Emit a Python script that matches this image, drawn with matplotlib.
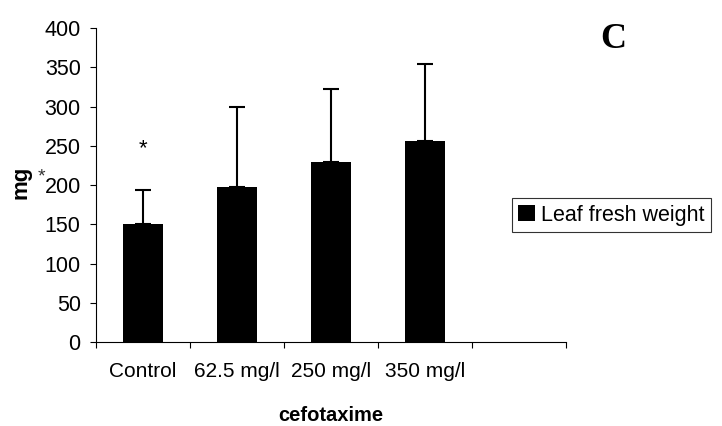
import matplotlib.pyplot as plt
import numpy as np

categories = ["Control", "62.5 mg/l", "250 mg/l", "350 mg/l"]
fresh_weight = [150, 197, 229, 256]
error_upper = [44, 103, 93, 98]
series_name = "Leaf fresh weight"

plt.rcParams["font.family"] = ["Liberation Sans", "DejaVu Sans"]

fig = plt.figure(figsize=(7.22, 4.26), dpi=100)
ax = fig.add_axes([0.133, 0.197, 0.651, 0.737])

x = np.arange(len(categories))
ax.bar(x, fresh_weight, width=0.42, color="black", label=series_name, zorder=2)
ax.errorbar(x, fresh_weight, yerr=[np.zeros(len(x)), error_upper], fmt="none",
            ecolor="black", elinewidth=1.5, capsize=5.5, capthick=1.5, zorder=3)

# significance mark over the control
ax.text(0, 246, "*", ha="center", va="center", fontsize=16)

ax.set_xlim(-0.5, len(categories) + 0.5)
ax.set_ylim(0, 400)
ax.set_yticks(np.arange(0, 401, 50))
ax.set_xticks(np.arange(-0.5, len(categories) + 1, 1.0))
ax.set_xticklabels([])
ax.set_xticks(x, minor=True)
ax.set_xticklabels(categories, minor=True)
ax.tick_params(axis="x", which="minor", length=0, pad=14, labelsize=15)
ax.tick_params(axis="x", which="major", length=4, direction="out")
ax.tick_params(axis="y", length=4, direction="out", pad=7, labelsize=15.5)
for side in ["top", "right"]:
    ax.spines[side].set_visible(False)

ax.set_xlabel("cefotaxime", fontsize=14.5, fontweight="bold", labelpad=18)
fig.text(0.029, 0.573, "mg", rotation=90, fontsize=16, fontweight="bold",
         ha="center", va="center")
fig.text(0.058, 0.585, "*", fontsize=14, color="#333333", ha="center", va="center")

fig.text(0.849, 0.908, "C", fontsize=26, fontweight="bold",
         family="Liberation Serif", ha="center", va="center")

leg = ax.legend(loc="center left", bbox_to_anchor=(0.709, 0.495),
                bbox_transform=fig.transFigure, fontsize=15.5,
                frameon=True, fancybox=False, edgecolor="black", handlelength=0.75,
                handleheight=0.75, handletextpad=0.3, borderpad=0.3,
                borderaxespad=0)
leg.get_frame().set_linewidth(0.8)

fig.savefig("out.png", dpi=100)
